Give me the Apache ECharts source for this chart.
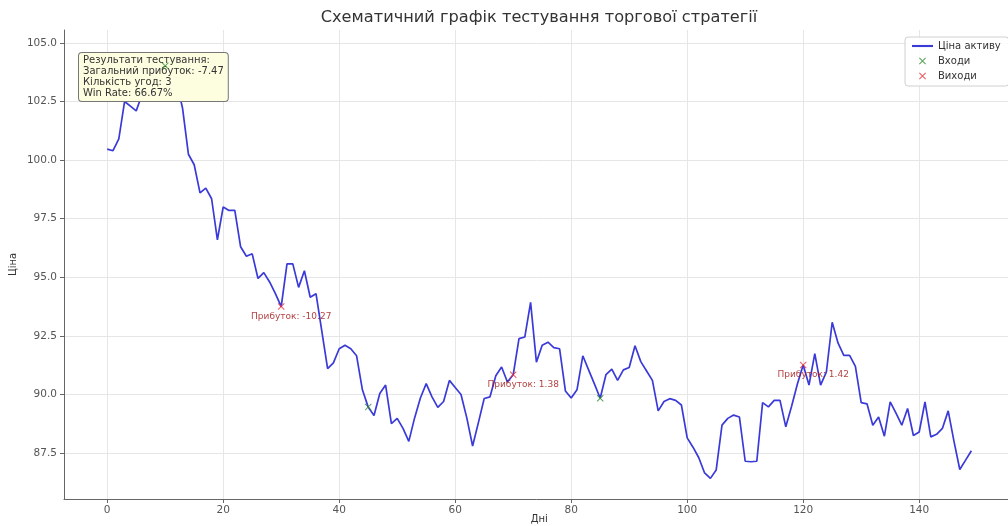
<!DOCTYPE html>
<html>
<head>
<meta charset="utf-8">
<script src="https://cdn.jsdelivr.net/npm/echarts@6/dist/echarts.min.js"></script>
<style>
  html, body { margin: 0; padding: 0; background: #fff; }
  #chart { width: 1008px; height: 526px; }
</style>
</head>
<body>
<div id="chart"></div>
<script>
// Daily asset price over the test period (day index = position in the list)
const prices = [
  100.47, 100.40, 100.90, 102.50, 102.30, 102.10, 102.80, 103.30, 103.00, 103.60,
  104.02, 103.70, 103.30, 102.20, 100.25, 99.80, 98.60, 98.80, 98.35, 96.60,
  98.00, 97.85, 97.85, 96.30, 95.90, 96.00, 94.95, 95.20, 94.80, 94.30,
  93.75, 95.57, 95.57, 94.57, 95.28, 94.15, 94.30, 92.70, 91.10, 91.35,
  91.95, 92.10, 91.95, 91.65, 90.20, 89.46, 89.10, 90.04, 90.40, 88.76,
  88.98, 88.55, 88.00, 89.00, 89.85, 90.46, 89.90, 89.45, 89.70, 90.60,
  90.30, 90.00, 89.00, 87.80, 88.80, 89.83, 89.90, 90.80, 91.17, 90.53,
  90.84, 92.38, 92.45, 93.93, 91.38, 92.10, 92.23, 92.00, 91.95, 90.15,
  89.85, 90.20, 91.65, 91.05, 90.45, 89.84, 90.85, 91.08, 90.60, 91.05,
  91.15, 92.08, 91.40, 91.00, 90.60, 89.30, 89.70, 89.82, 89.75, 89.55,
  88.15, 87.75, 87.30, 86.65, 86.42, 86.78, 88.69, 88.98, 89.12, 89.04,
  87.15, 87.13, 87.15, 89.65, 89.47, 89.75, 89.75, 88.62, 89.50, 90.45,
  91.26, 90.40, 91.74, 90.40, 90.96, 93.08, 92.20, 91.67, 91.67, 91.20,
  89.65, 89.60, 88.69, 89.04, 88.22, 89.68, 89.20, 88.69, 89.40, 88.25,
  88.40, 89.68, 88.19, 88.30, 88.55, 89.30, 88.00, 86.80, 87.20, 87.60
];
const days = prices.map((_, i) => i);

// Trades: day of entry and day of exit
const entryDays = [10, 45, 85];
const exitDays = [30, 70, 120];

// Axis ticks
const xTicks = [0, 20, 40, 60, 80, 100, 120, 140];
const yTicks = [87.5, 90.0, 92.5, 95.0, 97.5, 100.0, 102.5, 105.0];

const titleText = 'Схематичний графік тестування торгової стратегії';
const seriesNames = ['Ціна активу', 'Входи', 'Виходи'];

// Trade statistics
const profits = exitDays.map((d, i) => prices[d] - prices[entryDays[i]]);
const totalProfit = profits.reduce((a, b) => a + b, 0);
const winRate = profits.filter(p => p > 0).length / profits.length * 100;

const summaryText = [
  'Результати тестування:',
  'Загальний прибуток: ' + totalProfit.toFixed(2),
  'Кількість угод: ' + profits.length,
  'Win Rate: ' + winRate.toFixed(2) + '%'
].join('\n');

const FONT = 'DejaVu Sans';
const crossPath = 'path://M0,1L1,0L5,4L9,0L10,1L6,5L10,9L9,10L5,6L1,10L0,9L4,5Z';

const chart = echarts.init(document.getElementById('chart'), null, { renderer: 'canvas' });

const gridLeft = 64, gridTop = 30, gridBottom = 27;
const xMin = -7.45, xMax = 156.45;
const yMin = 85.54, yMax = 105.55;
const gridWidth = 950.6;

chart.setOption({
  backgroundColor: '#ffffff',
  animation: false,
  textStyle: { fontFamily: FONT },
  grid: {
    left: gridLeft, top: gridTop, bottom: gridBottom, width: gridWidth,
    outerBoundsMode: 'none', containLabel: false
  },
  legend: {
    left: 905, top: 37,
    orient: 'vertical',
    backgroundColor: 'rgba(255,255,255,0.85)',
    borderColor: '#d0d0d0', borderWidth: 1, borderRadius: 3,
    padding: [4, 8, 5, 7],
    itemWidth: 21, itemHeight: 7, itemGap: 5,
    textStyle: { fontFamily: FONT, fontSize: 10, color: '#333' },
    data: [
      { name: seriesNames[0], icon: 'path://M0,0L20,0L20,2L0,2Z' },
      { name: seriesNames[1], icon: crossPath },
      { name: seriesNames[2], icon: crossPath }
    ]
  },
  xAxis: {
    type: 'value',
    min: xMin, max: xMax,
    minInterval: 20, maxInterval: 20, splitNumber: 8,
    name: 'Дні', nameLocation: 'middle', nameGap: 15, nameMoveOverlap: false,
    nameTextStyle: { fontFamily: FONT, fontSize: 10, color: '#333' },
    axisLine: { onZero: false, lineStyle: { color: '#666', width: 1 } },
    axisTick: { show: true, length: 4, lineStyle: { color: '#666' } },
    axisLabel: {
      color: '#555', fontSize: 10.5, fontFamily: FONT, margin: 6,
      showMinLabel: false, showMaxLabel: false,
      formatter: v => (xTicks.includes(v) ? String(v) : '')
    },
    splitLine: { show: true, showMinLine: false, showMaxLine: false, lineStyle: { color: '#e6e6e6', width: 1 } }
  },
  yAxis: {
    type: 'value',
    min: yMin, max: yMax,
    minInterval: 2.5, maxInterval: 2.5, splitNumber: 8,
    name: 'Ціна', nameLocation: 'middle', nameGap: 46, nameRotate: 90, nameMoveOverlap: false,
    nameTextStyle: { fontFamily: FONT, fontSize: 10, color: '#333' },
    axisLine: { show: true, onZero: false, lineStyle: { color: '#666', width: 1 } },
    axisTick: { show: true, length: 4, lineStyle: { color: '#666' } },
    axisLabel: {
      color: '#555', fontSize: 10.5, fontFamily: FONT, margin: 7,
      showMinLabel: false, showMaxLabel: false,
      formatter: v => {
        const t = yTicks.find(y => Math.abs(y - v) < 1e-6);
        return t === undefined ? '' : t.toFixed(1);
      }
    },
    splitLine: { show: true, showMinLine: false, showMaxLine: false, lineStyle: { color: '#e6e6e6', width: 1 } }
  },
  graphic: [
    {
      type: 'text', x: 539, y: 18, z: 10,
      style: {
        text: titleText, fill: '#333',
        font: '16.2px "DejaVu Sans"', align: 'center', verticalAlign: 'middle'
      }
    },
    {
      type: 'text', x: 79, y: 53, z: 3,
      style: {
        text: summaryText, fill: '#333',
        font: '10px "DejaVu Sans"', lineHeight: 11,
        backgroundColor: '#fdfde0', borderColor: '#777', borderWidth: 1, borderRadius: 3,
        padding: [2, 4, 2, 4]
      }
    }
  ],
  series: [
    {
      name: seriesNames[0],
      type: 'line',
      z: 2,
      data: days.map(d => [d, prices[d]]),
      symbol: 'none',
      lineStyle: { color: '#3a3ad8', width: 1.7 },
      itemStyle: { color: '#3a3ad8' }
    },
    {
      name: seriesNames[1],
      type: 'scatter',
      z: 5,
      data: entryDays.map(d => [d, prices[d]]),
      symbol: crossPath, symbolSize: 7,
      itemStyle: { color: '#2e8b2e' }
    },
    {
      name: seriesNames[2],
      type: 'scatter',
      z: 5,
      data: exitDays.map(d => [d, prices[d]]),
      symbol: crossPath, symbolSize: 7,
      itemStyle: { color: '#e8303a' },
      label: {
        show: true, position: 'bottom', distance: 2, offset: [10, 0],
        fontFamily: FONT, fontSize: 9, color: '#a01010',
        formatter: p => 'Прибуток: ' + profits[p.dataIndex].toFixed(2)
      }
    }
  ]
});
</script>
</body>
</html>
